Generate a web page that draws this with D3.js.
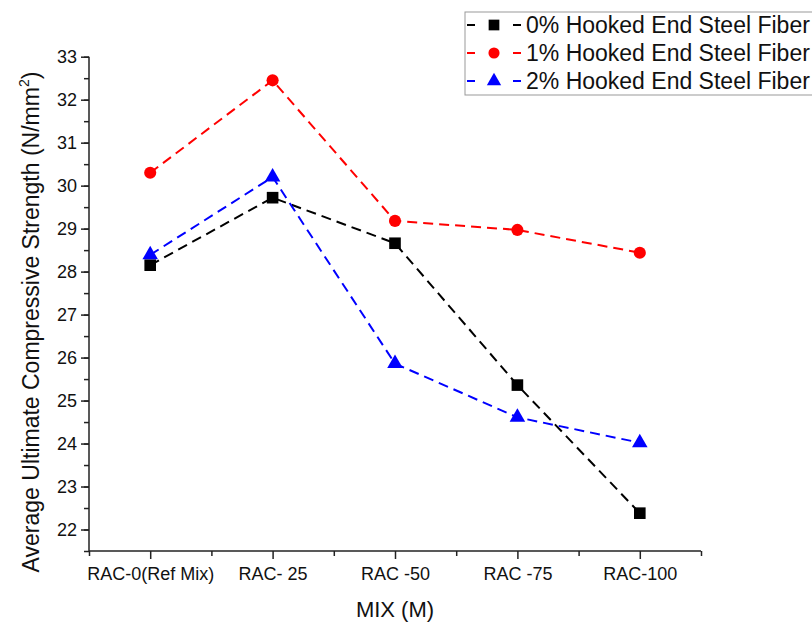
<!DOCTYPE html>
<html>
<head>
<meta charset="utf-8">
<script src="https://cdn.jsdelivr.net/npm/d3@7"></script>
<style>
  body { margin: 0; background: #fff; }
  text { font-family: "Liberation Sans", Arial, sans-serif; }
</style>
</head>
<body>
<div class="canvas"></div>
<script>
// data
const mixes = ['RAC-0(Ref Mix)', 'RAC- 25', 'RAC -50', 'RAC -75', 'RAC-100']
const fiber0 = [28.15, 29.72, 28.66, 25.36, 22.38]
const fiber1 = [30.30, 32.45, 29.18, 28.97, 28.44]
const fiber2 = [28.39, 30.20, 25.86, 24.61, 24.02]
const seriesNames = ['0% Hooked End Steel Fiber', '1% Hooked End Steel Fiber', '2% Hooked End Steel Fiber']
const yTicks = [22, 23, 24, 25, 26, 27, 28, 29, 30, 31, 32, 33]

const series = [
  { name: seriesNames[0], values: fiber0, color: '#000000', shape: d3.symbolSquare },
  { name: seriesNames[1], values: fiber1, color: '#ff0000', shape: d3.symbolCircle },
  { name: seriesNames[2], values: fiber2, color: '#0000ff', shape: d3.symbolTriangle }
]

const svg = d3.select('.canvas').append('svg')
    .attr('width', 812)
    .attr('height', 624)

// plot box
const plotLeft = 89, plotRight = 701, plotTop = 56.7, plotBottom = 551

const x = d3.scaleLinear().domain([0.5, 5.5]).range([plotLeft, plotRight])
const y = d3.scaleLinear().domain([21.5, 33]).range([plotBottom, plotTop])

const axisColor = '#222'

// y axis: minor ticks, then major ticks with labels
const yMinor = svg.append('g').attr('transform', `translate(${plotLeft},0)`)
    .call(d3.axisLeft(y).tickValues(d3.range(21.5, 33.01, 0.5)).tickSize(5).tickFormat(''))
yMinor.select('.domain').remove()
yMinor.selectAll('.tick line').attr('stroke', axisColor).attr('stroke-width', 1.5)

const yMajor = svg.append('g').attr('transform', `translate(${plotLeft},0)`)
    .call(d3.axisLeft(y).tickValues(yTicks).tickSize(8).tickPadding(4).tickFormat(d3.format('d')))
yMajor.select('.domain').attr('stroke', axisColor).attr('stroke-width', 1.5)
    .attr('d', `M0,${plotTop}V${plotBottom}`)
yMajor.selectAll('.tick line').attr('stroke', axisColor).attr('stroke-width', 1.5)
yMajor.selectAll('.tick text').attr('font-size', 18).attr('fill', '#111')
    .style('font-family', '"Liberation Sans", Arial, sans-serif')

// x axis: categories on whole numbers, minor ticks in between
const xMinor = svg.append('g').attr('transform', `translate(0,${plotBottom})`)
    .call(d3.axisBottom(x).tickValues(d3.range(0.5, 5.51, 1)).tickSize(5).tickFormat(''))
xMinor.select('.domain').remove()
xMinor.selectAll('.tick line').attr('stroke', axisColor).attr('stroke-width', 1.5)

const xMajor = svg.append('g').attr('transform', `translate(0,${plotBottom})`)
    .call(d3.axisBottom(x).tickValues([1, 2, 3, 4, 5]).tickSize(8).tickPadding(8)
      .tickFormat(d => mixes[d - 1]))
xMajor.select('.domain').attr('stroke', axisColor).attr('stroke-width', 1.5)
    .attr('d', `M${plotLeft},0H${plotRight}`)
xMajor.selectAll('.tick line').attr('stroke', axisColor).attr('stroke-width', 1.5)
xMajor.selectAll('.tick text').attr('font-size', 18).attr('fill', '#111')
    .style('font-family', '"Liberation Sans", Arial, sans-serif')

// axis titles
svg.append('text')
    .attr('x', 395)
    .attr('y', 617)
    .attr('text-anchor', 'middle')
    .attr('font-size', 22)
    .attr('fill', '#111')
    .text('MIX (M)')

const yTitle = svg.append('text')
    .attr('transform', 'translate(39,322) rotate(-90)')
    .attr('text-anchor', 'middle')
    .attr('font-size', 23)
    .attr('fill', '#111')
yTitle.append('tspan').text('Average Ultimate Compressive Strength (N/mm')
yTitle.append('tspan').attr('font-size', 14).attr('dy', -10).text('2')
yTitle.append('tspan').attr('dy', 10).text(')')

// lines and markers
const line = d3.line()
    .x((d, i) => x(i + 1))
    .y(d => y(d))

const sizes = [135, 115, 105]

series.forEach((s, k) => {
  svg.append('path')
      .datum(s.values)
      .attr('d', line)
      .attr('fill', 'none')
      .attr('stroke', s.color)
      .attr('stroke-width', 2)
      .attr('stroke-dasharray', '10,6')

  svg.selectAll('.m' + k)
      .data(s.values)
      .enter().append('path')
      .attr('class', 'm' + k)
      .attr('transform', (d, i) => `translate(${x(i + 1)},${y(d)})`)
      .attr('d', d3.symbol().type(s.shape).size(sizes[k]))
      .attr('fill', s.color)
})

// legend
const legend = svg.append('g')
legend.append('rect')
    .attr('x', 465)
    .attr('y', 12)
    .attr('width', 360)
    .attr('height', 83)
    .attr('fill', 'white')
    .attr('stroke', '#999')
    .attr('stroke-width', 1)

series.forEach((s, k) => {
  const ly = 25 + k * 28
  legend.append('line')
      .attr('x1', 467).attr('x2', 521)
      .attr('y1', ly).attr('y2', ly)
      .attr('stroke', s.color)
      .attr('stroke-width', 2)
      .attr('stroke-dasharray', '8,38')
  legend.append('line')
      .attr('x1', 513).attr('x2', 521)
      .attr('y1', ly).attr('y2', ly)
      .attr('stroke', s.color)
      .attr('stroke-width', 2)
  legend.append('path')
      .attr('transform', `translate(494,${ly})`)
      .attr('d', d3.symbol().type(s.shape).size(sizes[k] * 0.85))
      .attr('fill', s.color)
  legend.append('text')
      .attr('x', 526)
      .attr('y', ly + 8)
      .attr('font-size', 23)
      .attr('fill', '#111')
      .text(s.name)
})
</script>
</body>
</html>
